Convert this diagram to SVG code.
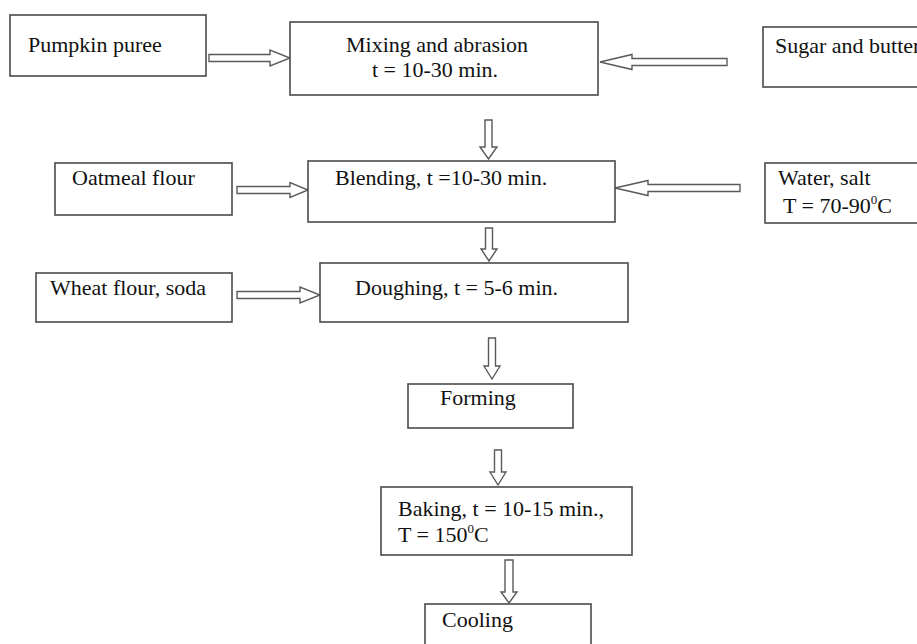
<svg xmlns="http://www.w3.org/2000/svg" width="917" height="644" viewBox="0 0 917 644">
<style>
.box{fill:#fff;stroke:#4a4a4a;stroke-width:1.6}
.arr{fill:#fff;stroke:#5a5a5a;stroke-width:1.4;stroke-linejoin:miter}
text{font-family:"Liberation Serif","Times New Roman",serif;font-size:22px;fill:#111}
.sup{font-size:13px}
</style>
<rect width="917" height="644" fill="#fff"/>
<g id="connectors">
<polygon class="arr" points="209,54.5 270,54.5 270,50 290,58 270,66 270,61.5 209,61.5"/>
<polygon class="arr" points="727,58.5 632,58.5 632,54.5 600,62 632,69.5 632,65.5 727,65.5"/>
<polygon class="arr" points="237,186.5 290,186.5 290,182.5 308,190 290,197.5 290,193.5 237,193.5"/>
<polygon class="arr" points="740,184.5 648,184.5 648,180.5 615,188 648,195.5 648,191.5 740,191.5"/>
<polygon class="arr" points="237,291.5 300,291.5 300,287 320,295 300,303 300,298.5 237,298.5"/>
<polygon class="arr" points="485,120 492,120 492,147 497,147 488.5,159 480,147 485,147"/>
<polygon class="arr" points="485.5,228 492.5,228 492.5,249 497,249 489,261 481,249 485.5,249"/>
<polygon class="arr" points="488.5,338 495.5,338 495.5,366 500,366 492,379 484,366 488.5,366"/>
<polygon class="arr" points="494.5,450 501.5,450 501.5,472 506,472 498,485 490,472 494.5,472"/>
<polygon class="arr" points="505,560 513,560 513,592 517,592 509,603 501,592 505,592"/>
</g>
<g id="pumpkin"><rect class="box" x="10" y="15" width="196" height="61"/><text x="28" y="52">Pumpkin puree</text></g>
<g id="mixing"><rect class="box" x="290" y="22" width="308" height="73"/><text x="346" y="52">Mixing and abrasion</text><text x="372" y="77">t = 10-30 min.</text></g>
<g id="sugar"><rect class="box" x="763" y="27" width="160" height="60"/><text x="775" y="53">Sugar and butter</text></g>
<g id="oatmeal"><rect class="box" x="55" y="163" width="177" height="52"/><text x="72" y="185">Oatmeal flour</text></g>
<g id="blending"><rect class="box" x="308" y="161" width="307" height="61"/><text x="335" y="185">Blending, t =10-30 min.</text></g>
<g id="water"><rect class="box" x="765" y="163" width="160" height="60"/><text x="778" y="185">Water, salt</text><text x="783" y="213">T = 70-90<tspan class="sup" dy="-9">0</tspan><tspan dy="9">C</tspan></text></g>
<g id="wheat"><rect class="box" x="36" y="273" width="196" height="49"/><text x="50" y="295">Wheat flour, soda</text></g>
<g id="doughing"><rect class="box" x="320" y="263" width="308" height="59"/><text x="355" y="295">Doughing, t = 5-6 min.</text></g>
<g id="forming"><rect class="box" x="408" y="384" width="165" height="44"/><text x="440" y="405">Forming</text></g>
<g id="baking"><rect class="box" x="381" y="487" width="251" height="68"/><text x="398" y="516">Baking, t = 10-15 min.,</text><text x="398" y="542">T = 150<tspan class="sup" dy="-9">0</tspan><tspan dy="9">C</tspan></text></g>
<g id="cooling"><rect class="box" x="425" y="604" width="166" height="50"/><text x="442" y="627">Cooling</text></g>
</svg>
